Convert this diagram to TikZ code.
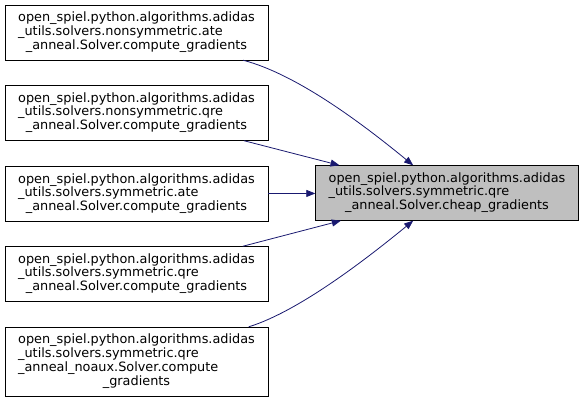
\documentclass[tikz,border=0pt]{standalone}
\usepackage{fontspec}
\setmainfont{DejaVu Sans}
\usepackage{xcolor}
\usetikzlibrary{arrows.meta}
\definecolor{edgeblue}{HTML}{191970}
\definecolor{hlgray}{HTML}{BFBFBF}
\newcommand{\fnlabel}[2]{\begin{tabular}{@{}l@{}}#1\\\multicolumn{1}{@{}c@{}}{#2}\end{tabular}}

\begin{document}
\begin{tikzpicture}[
		x=1bp, y=1bp,
		fn/.style={draw=black, fill=white, inner sep=0pt, minimum width=263bp, minimum height=55bp,
			font=\fontsize{12.9}{13.6}\selectfont},
		cur/.style={fn, fill=hlgray},
		call/.style={draw=edgeblue, line width=0.8pt, -{Triangle[length=9bp,width=7bp]}, fill=none}
		]
		\useasboundingbox[fill=white] (0,0) rectangle (584,-402);
		
		% Callers
		\node[fn] (ate1) at (136.5,-32.5) {\fnlabel{open\_spiel.python.algorithms.adidas\\\_utils.solvers.nonsymmetric.ate}{\_anneal.Solver.compute\_gradients}};
		\node[fn] (qre1) at (136.5,-113)  {\fnlabel{open\_spiel.python.algorithms.adidas\\\_utils.solvers.nonsymmetric.qre}{\_anneal.Solver.compute\_gradients}};
		\node[fn] (ate2) at (136.5,-194)  {\fnlabel{open\_spiel.python.algorithms.adidas\\\_utils.solvers.symmetric.ate}{\_anneal.Solver.compute\_gradients}};
		\node[fn] (qre2) at (136.5,-274)  {\fnlabel{open\_spiel.python.algorithms.adidas\\\_utils.solvers.symmetric.qre}{\_anneal.Solver.compute\_gradients}};
		\node[fn, minimum height=69bp] (noaux) at (136.5,-361.5) {\fnlabel{open\_spiel.python.algorithms.adidas\\\_utils.solvers.symmetric.qre\\\_anneal\_noaux.Solver.compute}{\_gradients}};
		
		% Callee
		\node[cur] (cheap) at (447,-193) {\fnlabel{open\_spiel.python.algorithms.adidas\\\_utils.solvers.symmetric.qre}{\_anneal.Solver.cheap\_gradients}};
		
		% Calls
		\draw[call] (ate1) .. controls (300,-75) and (370,-130) .. (cheap);
		\draw[call] (qre1) -- (cheap);
		\draw[call] (ate2) -- (cheap);
		\draw[call] (qre2) -- (cheap);
		\draw[call] (noaux) .. controls (300,-311) and (370,-256) .. (cheap);
		
	\end{tikzpicture}
\end{document}
